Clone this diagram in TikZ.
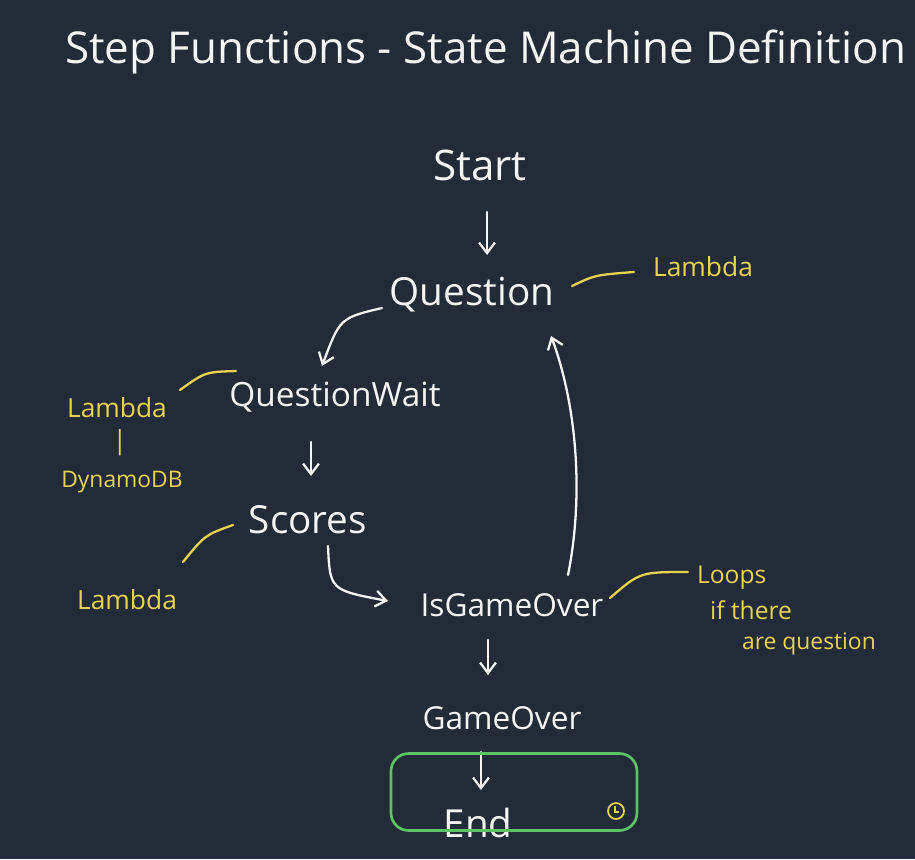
\documentclass[tikz,border=0pt]{standalone}
\usepackage{fontspec}
\setmainfont{Open Sans}
\usetikzlibrary{arrows.meta}
\definecolor{bg}{RGB}{35,43,56}
\definecolor{chalk}{RGB}{245,245,245}
\definecolor{hl}{RGB}{232,212,80}
\definecolor{boxgreen}{RGB}{92,196,100}
\begin{document}
\begin{tikzpicture}[x=0.02cm,y=-0.02cm,
  state/.style={text=chalk,inner sep=1pt},
  note/.style={text=hl,font=\fontsize{15}{18}\selectfont,inner sep=1pt},
  flow/.style={draw=chalk,line width=1.3pt,line cap=round,-{Straight Barb[length=6pt,width=9pt]}},
  lead/.style={draw=hl,line width=1.3pt,line cap=round}]
\fill[bg] (0,0) rectangle (915,859);
\useasboundingbox (0,0) rectangle (915,859);
% title
\node[text=chalk,font=\fontsize{25}{30}\selectfont,anchor=west,inner sep=0pt] (title) at (65,52) {Step Functions - State Machine Definition};
% states
\node[state,font=\fontsize{24}{28}\selectfont] (start) at (480,165) {Start};
\node[state,font=\fontsize{22}{26}\selectfont] (question) at (472,295) {Question};
\node[state,font=\fontsize{19}{23}\selectfont] (qwait) at (335,397) {QuestionWait};
\node[state,font=\fontsize{22}{26}\selectfont] (scores) at (308,520) {Scores};
\node[state,font=\fontsize{18}{22}\selectfont] (isover) at (512,605) {IsGameOver};
\node[state,font=\fontsize{18}{22}\selectfont] (gameover) at (502,718) {GameOver};
\node[state,font=\fontsize{22}{26}\selectfont] (end) at (478,823) {End};
% notes
\node[note] (lam1) at (703,267) {Lambda};
\node[note] (lam2) at (117,408) {Lambda};
\node[note] (bar) at (120,443) {|};
\node[note,font=\fontsize{13}{16}\selectfont] (dyn) at (122,482) {DynamoDB};
\node[note] (lam3) at (127,600) {Lambda};
\node[note,anchor=west,font=\fontsize{14}{17}\selectfont] (loops1) at (695,578) {Loops};
\node[note,anchor=west,font=\fontsize{14}{17}\selectfont] (loops2) at (708,610) {if there};
\node[note,anchor=west,font=\fontsize{13}{16}\selectfont] (loops3) at (740,644) {are question};
% leader line ends
\coordinate (q1) at (572,286);
\coordinate (n1) at (634,272);
\coordinate (q2) at (236,371);
\coordinate (n2) at (180,390);
\coordinate (q3) at (233,525);
\coordinate (n3) at (183,562);
\coordinate (q4) at (610,598);
\coordinate (n4) at (688,572);
\draw[lead] (q1) .. controls (595,275) .. (n1);
\draw[lead] (q2) .. controls (205,372) .. (n2);
\draw[lead] (q3) .. controls (205,535) .. (n3);
\draw[lead] (q4) .. controls (640,572) .. (n4);
% flow arrow ends
\coordinate (s1) at (487,212);
\coordinate (e1) at (487,255);
\coordinate (s2) at (382,308);
\coordinate (e2) at (322,366);
\coordinate (s3) at (311,442);
\coordinate (e3) at (311,476);
\coordinate (s4) at (328,546);
\coordinate (e4) at (388,601);
\coordinate (s5) at (568,575);
\coordinate (e5) at (551,336);
\coordinate (s6) at (488,640);
\coordinate (e6) at (488,675);
\coordinate (s7) at (481,752);
\coordinate (e7) at (481,790);
\draw[flow] (s1) -- (e1);
\draw[flow] (s2) .. controls (340,318) .. (e2);
\draw[flow] (s3) -- (e3);
\draw[flow] (s4) .. controls (330,590) .. (e4);
\draw[flow] (s5) .. controls (585,490) and (575,400) .. (e5);
\draw[flow] (s6) -- (e6);
\draw[flow] (s7) -- (e7);
% end box
\node[draw=boxgreen,line width=1.5pt,rounded corners=10pt,inner sep=0pt,minimum width=4.92cm,minimum height=1.54cm] (endbox) at (514,792) {};
\draw[hl,line width=1pt] (616,811) circle (8);
\draw[hl,line width=0.8pt] (615,806) -- (615,812) -- (619,812);
\end{tikzpicture}
\end{document}
